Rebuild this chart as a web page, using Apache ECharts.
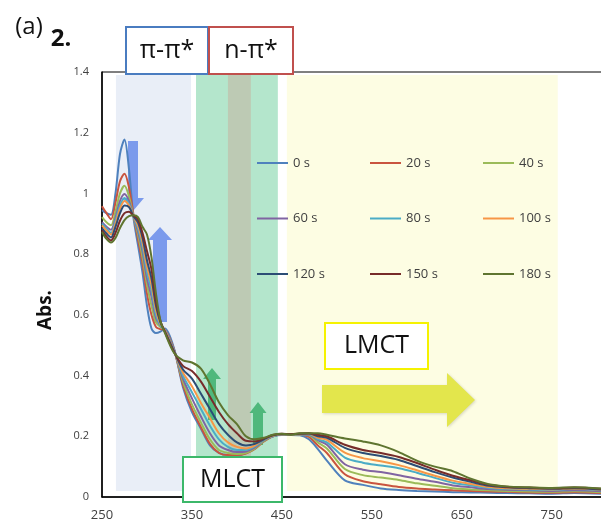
<!DOCTYPE html>
<html>
<head>
<meta charset="utf-8">
<script src="https://cdn.jsdelivr.net/npm/echarts@6/dist/echarts.min.js"></script>
<style>
html, body { margin: 0; padding: 0; background: #fff; }
#main { width: 601px; height: 523px; }
</style>
</head>
<body>
<div id="main"></div>
<script>
// wavelength axis (nm)
var wavelengths = [250,255,260,265,270,275,280,285,290,295,300,305,310,315,320,330,340,350,360,370,380,390,400,410,420,430,440,450,460,470,480,490,500,520,540,560,580,600,620,640,660,680,700,725,750,775,805];

// absorbance, one array per irradiation time
var abs0   = [.945,.935,.93,1.0,1.13,1.178,1.08,.92,.83,.74,.63,.555,.54,.545,.555,.49,.362,.28,.225,.17,.145,.138,.138,.145,.16,.185,.2,.204,.204,.203,.19,.158,.12,.055,.04,.028,.023,.02,.018,.016,.015,.014,.013,.012,.011,.013,.011];
var abs20  = [.958,.935,.915,.97,1.04,1.065,1.02,.93,.85,.77,.67,.6,.56,.553,.55,.487,.37,.29,.23,.175,.145,.138,.138,.143,.158,.183,.2,.205,.205,.205,.198,.17,.145,.075,.052,.042,.033,.028,.025,.022,.02,.018,.017,.015,.014,.016,.013];
var abs40  = [.922,.905,.895,.94,1.0,1.025,.99,.925,.865,.79,.7,.63,.575,.56,.55,.485,.38,.305,.245,.19,.155,.145,.142,.145,.16,.185,.2,.205,.205,.205,.203,.18,.16,.092,.072,.064,.056,.045,.037,.029,.025,.022,.02,.018,.017,.019,.016];
var abs60  = [.905,.89,.88,.92,.975,.998,.975,.925,.875,.81,.72,.66,.59,.565,.55,.485,.39,.325,.265,.21,.17,.155,.148,.15,.163,.187,.2,.205,.205,.206,.205,.187,.172,.108,.09,.082,.072,.06,.05,.038,.032,.026,.024,.022,.02,.022,.019];
var abs80  = [.9,.885,.87,.91,.96,.985,.965,.925,.885,.825,.74,.68,.6,.565,.548,.482,.4,.345,.29,.235,.19,.165,.155,.155,.167,.188,.2,.205,.205,.206,.207,.19,.18,.13,.113,.104,.095,.08,.063,.047,.038,.03,.027,.025,.023,.026,.022];
var abs100 = [.895,.878,.865,.9,.95,.975,.96,.925,.895,.84,.76,.7,.615,.57,.548,.48,.41,.365,.31,.26,.21,.18,.165,.16,.17,.19,.202,.206,.206,.207,.208,.195,.188,.146,.128,.118,.105,.088,.07,.054,.043,.033,.029,.027,.025,.027,.024];
var abs120 = [.885,.868,.855,.89,.935,.96,.955,.925,.905,.855,.78,.72,.63,.575,.545,.48,.42,.39,.34,.29,.24,.205,.18,.17,.175,.19,.203,.207,.207,.208,.209,.2,.195,.162,.145,.135,.122,.102,.082,.064,.05,.037,.032,.029,.027,.029,.025];
var abs150 = [.878,.858,.845,.87,.91,.935,.94,.927,.915,.87,.81,.75,.645,.58,.543,.478,.432,.415,.38,.33,.28,.24,.21,.185,.183,.193,.204,.208,.207,.209,.21,.205,.2,.172,.155,.145,.132,.112,.09,.07,.055,.04,.034,.031,.029,.031,.027];
var abs180 = [.873,.85,.838,.853,.886,.912,.925,.928,.922,.89,.865,.79,.67,.58,.54,.475,.45,.443,.423,.372,.312,.27,.24,.2,.19,.195,.205,.208,.205,.21,.21,.21,.205,.193,.183,.17,.148,.12,.1,.085,.06,.042,.035,.032,.03,.032,.028];

var seriesNames = ['0 s','20 s','40 s','60 s','80 s','100 s','120 s','150 s','180 s'];
var seriesData = [abs0, abs20, abs40, abs60, abs80, abs100, abs120, abs150, abs180];
var seriesColors = ['#4f81bd','#c9543f','#9bbb59','#8064a2','#4bacc6','#f79646','#2c4d75','#772c2a','#5f7530'];

// shaded transition regions (nm)
var bandRanges = [[265.5, 349], [354.5, 445.5], [390, 415.5], [455.5, 756.7]];
var bandColors = ['#e9eef7', '#b4e6cc', '#bdcab4', '#fdfde3'];

var chart = echarts.init(document.getElementById('main'));

var series = [];
for (var i = 0; i < seriesNames.length; i++) {
    var pts = [];
    for (var j = 0; j < wavelengths.length; j++) {
        pts.push([wavelengths[j], seriesData[i][j]]);
    }
    series.push({
        name: seriesNames[i],
        type: 'line',
        data: pts,
        smooth: 0.3,
        showSymbol: false,
        z: 2,
        lineStyle: { width: 2, color: seriesColors[i] },
        itemStyle: { color: seriesColors[i] }
    });
}

// legend laid out as a 3 x 3 block
var legends = [];
for (var k = 0; k < seriesNames.length; k++) {
    legends.push({
        data: [seriesNames[k]],
        left: 257 + (k % 3) * 113,
        top: 155 + Math.floor(k / 3) * 55.5,
        padding: 0,
        icon: 'rect',
        itemWidth: 31,
        itemHeight: 2,
        selectedMode: false,
        textStyle: { fontFamily: 'Open Sans', fontSize: 13, color: '#404040', lineHeight: 16 }
    });
}

var option = {
    animation: false,
    backgroundColor: '#fff',
    grid: {
        left: 102, right: -2, top: 72, bottom: 26,
        show: true, borderColor: '#000', borderWidth: 1,
        containLabel: false, outerBoundsMode: 'none'
    },
    legend: legends,
    xAxis: {
        type: 'value', min: 250, max: 807, interval: 100,
        splitLine: { show: false },
        axisTick: { show: false },
        axisLine: { lineStyle: { color: '#000', width: 1.5 } },
        axisLabel: { showMaxLabel: false, margin: 12, fontFamily: 'Open Sans', fontSize: 13, color: '#404040' }
    },
    yAxis: {
        type: 'value', min: 0, max: 1.4, interval: 0.2,
        splitLine: { show: false },
        axisTick: { show: false },
        axisLine: { show: true, lineStyle: { color: '#000', width: 1.5 } },
        axisLabel: { margin: 13, fontFamily: 'Open Sans', fontSize: 11, color: '#404040' }
    },
    series: series
};
chart.setOption(option);

// decorations: bands, arrows, labelled boxes
var els = [];
for (var b = 0; b < bandRanges.length; b++) {
    var p1 = chart.convertToPixel({ gridIndex: 0 }, [bandRanges[b][0], 1.39]);
    var p2 = chart.convertToPixel({ gridIndex: 0 }, [bandRanges[b][1], 0.02]);
    els.push({
        type: 'rect', z: 0, silent: true,
        shape: { x: p1[0], y: p1[1], width: p2[0] - p1[0], height: p2[1] - p1[1] },
        style: { fill: bandColors[b] }
    });
}

function vArrow(cx, tipY, baseY, headW, shaftW, endY, fill) {
    return {
        type: 'polygon', z: 1, silent: true,
        shape: { points: [
            [cx, tipY], [cx + headW / 2, baseY], [cx + shaftW / 2, baseY], [cx + shaftW / 2, endY],
            [cx - shaftW / 2, endY], [cx - shaftW / 2, baseY], [cx - headW / 2, baseY]
        ] },
        style: { fill: fill }
    };
}
els.push(vArrow(133, 211, 198, 22, 10, 141, 'rgba(80,122,232,0.72)'));
els.push(vArrow(160, 227, 240, 24, 14, 322, 'rgba(80,122,232,0.72)'));
els.push(vArrow(212, 368, 379, 18, 8, 420, 'rgba(46,168,98,0.75)'));
els.push(vArrow(258, 402, 413, 17, 10, 445, 'rgba(46,168,98,0.75)'));
els.push({
    type: 'polygon', z: 1, silent: true,
    shape: { points: [[322, 385], [447, 385], [447, 373], [475, 400], [447, 427], [447, 413], [322, 413]] },
    style: { fill: '#e3e64c', shadowBlur: 3, shadowColor: 'rgba(0,0,0,0.15)', shadowOffsetX: 1, shadowOffsetY: 1 }
});

function box(x, y, w, h, stroke, label) {
    els.push({
        type: 'rect', z: 10, silent: true,
        shape: { x: x, y: y, width: w, height: h },
        style: { fill: '#fff', stroke: stroke, lineWidth: 2 }
    });
    els.push({
        type: 'text', z: 11, silent: true,
        x: x + w / 2, y: y + h / 2,
        style: { text: label, fontFamily: 'Open Sans', fontSize: 25, fill: '#111', align: 'center', verticalAlign: 'middle' }
    });
}
box(126, 27, 82, 47, '#4a7cc0', 'π-π*');
box(209, 27, 84, 47, '#c0504d', 'n-π*');
box(183, 457, 99, 45, '#3cb86a', 'MLCT');
box(325, 323, 103, 46, '#f5f200', 'LMCT');

els.push({ type: 'text', z: 11, x: 29, y: 27, style: { text: '(a)', fontFamily: 'Open Sans', fontSize: 24, fill: '#111', align: 'center', verticalAlign: 'middle' } });
els.push({ type: 'text', z: 11, x: 61, y: 39, style: { text: '2.', fontFamily: 'Open Sans', fontWeight: 'bold', fontSize: 24, fill: '#111', align: 'center', verticalAlign: 'middle' } });
els.push({ type: 'text', z: 11, x: 46, y: 310, rotation: Math.PI / 2, style: { text: 'Abs.', fontFamily: 'Open Sans', fontWeight: 'bold', fontSize: 19, fill: '#111', align: 'center', verticalAlign: 'middle' } });

chart.setOption({ graphic: { elements: els } });
</script>
</body>
</html>
